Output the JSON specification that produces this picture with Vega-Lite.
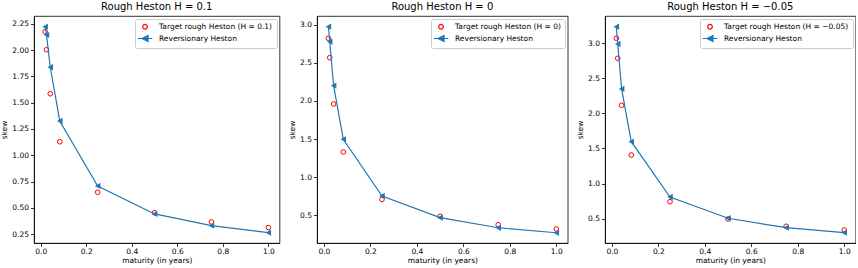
{
  "$schema": "https://vega.github.io/schema/vega-lite/v6.json",
  "padding": {"left": 0, "top": 1, "right": 0, "bottom": 0},
  "background": "white",
  "config": {
    "font": "DejaVu Sans",
    "view": {"stroke": "#000000", "strokeWidth": 0.8},
    "axis": {
      "grid": false,
      "labelFont": "DejaVu Sans", "labelFontSize": 7.5, "labelColor": "#000000",
      "titleFont": "DejaVu Sans", "titleFontSize": 7.5, "titleFontWeight": "normal", "titleColor": "#000000",
      "tickColor": "#000000", "tickSize": 3.5, "tickWidth": 0.8,
      "domainColor": "#000000", "domainWidth": 0.8, "labelPadding": 2, "titlePadding": 3
    },
    "axisX": {"labelPadding": 1, "titlePadding": 1.5},
    "title": {"font": "DejaVu Sans", "fontSize": 10, "fontWeight": "normal", "color": "#000000", "offset": 4},
    "legend": {
      "orient": "top-right", "offset": 3, "padding": 4,
      "fillColor": "rgba(255,255,255,0.8)", "strokeColor": "#cccccc", "cornerRadius": 2,
      "labelFont": "DejaVu Sans", "labelFontSize": 7.5, "labelColor": "#000000",
      "labelOffset": 8, "rowPadding": 0.5, "symbolStrokeWidth": 1.2, "symbolOpacity": 1
    }
  },
  "data": {"values": [
    {"p": 1, "s": "rev", "t": 0.0192, "v": 2.222},
    {"p": 1, "s": "rev", "t": 0.025, "v": 2.143},
    {"p": 1, "s": "rev", "t": 0.0417, "v": 1.836},
    {"p": 1, "s": "rev", "t": 0.0833, "v": 1.326},
    {"p": 1, "s": "rev", "t": 0.25, "v": 0.709},
    {"p": 1, "s": "rev", "t": 0.5, "v": 0.443},
    {"p": 1, "s": "rev", "t": 0.75, "v": 0.332},
    {"p": 1, "s": "rev", "t": 1.0, "v": 0.265},
    {"p": 1, "s": "target", "t": 0.0192, "v": 2.174},
    {"p": 1, "s": "target", "t": 0.025, "v": 2.003},
    {"p": 1, "s": "target", "t": 0.0417, "v": 1.585},
    {"p": 1, "s": "target", "t": 0.0833, "v": 1.129},
    {"p": 1, "s": "target", "t": 0.25, "v": 0.649},
    {"p": 1, "s": "target", "t": 0.5, "v": 0.455},
    {"p": 1, "s": "target", "t": 0.75, "v": 0.367},
    {"p": 1, "s": "target", "t": 1.0, "v": 0.313},
    {"p": 2, "s": "rev", "t": 0.0192, "v": 2.978},
    {"p": 2, "s": "rev", "t": 0.025, "v": 2.78},
    {"p": 2, "s": "rev", "t": 0.0417, "v": 2.201},
    {"p": 2, "s": "rev", "t": 0.0833, "v": 1.496},
    {"p": 2, "s": "rev", "t": 0.25, "v": 0.75},
    {"p": 2, "s": "rev", "t": 0.5, "v": 0.465},
    {"p": 2, "s": "rev", "t": 0.75, "v": 0.333},
    {"p": 2, "s": "rev", "t": 1.0, "v": 0.267},
    {"p": 2, "s": "target", "t": 0.0192, "v": 2.825},
    {"p": 2, "s": "target", "t": 0.025, "v": 2.57},
    {"p": 2, "s": "target", "t": 0.0417, "v": 1.961},
    {"p": 2, "s": "target", "t": 0.0833, "v": 1.329},
    {"p": 2, "s": "target", "t": 0.25, "v": 0.706},
    {"p": 2, "s": "target", "t": 0.5, "v": 0.483},
    {"p": 2, "s": "target", "t": 0.75, "v": 0.372},
    {"p": 2, "s": "target", "t": 1.0, "v": 0.316},
    {"p": 3, "s": "rev", "t": 0.0192, "v": 3.235},
    {"p": 3, "s": "rev", "t": 0.025, "v": 2.989},
    {"p": 3, "s": "rev", "t": 0.0417, "v": 2.348},
    {"p": 3, "s": "rev", "t": 0.0833, "v": 1.597},
    {"p": 3, "s": "rev", "t": 0.25, "v": 0.809},
    {"p": 3, "s": "rev", "t": 0.5, "v": 0.506},
    {"p": 3, "s": "rev", "t": 0.75, "v": 0.372},
    {"p": 3, "s": "rev", "t": 1.0, "v": 0.301},
    {"p": 3, "s": "target", "t": 0.0192, "v": 3.07},
    {"p": 3, "s": "target", "t": 0.025, "v": 2.785},
    {"p": 3, "s": "target", "t": 0.0417, "v": 2.115},
    {"p": 3, "s": "target", "t": 0.0833, "v": 1.407},
    {"p": 3, "s": "target", "t": 0.25, "v": 0.742},
    {"p": 3, "s": "target", "t": 0.5, "v": 0.496},
    {"p": 3, "s": "target", "t": 0.75, "v": 0.392},
    {"p": 3, "s": "target", "t": 1.0, "v": 0.339}
  ]},
  "bounds": "flush",
  "spacing": 37,
  "resolve": {
    "scale": {"x": "independent", "y": "independent", "shape": "independent", "stroke": "independent", "fill": "independent", "size": "independent"},
    "legend": {"shape": "independent", "stroke": "independent", "fill": "independent", "size": "independent"}
  },
  "hconcat": [
    {
      "width": 245.5, "height": 227,
      "title": "Rough Heston H = 0.1",
      "transform": [{"filter": "datum.p == 1"}],
      "encoding": {
        "x": {"field": "t", "type": "quantitative", "title": "maturity (in years)", "scale": {"domain": [-0.0298, 1.049], "nice": false, "zero": false}, "axis": {"values": [0, 0.2, 0.4, 0.6, 0.8, 1.0], "format": ".1f"}},
        "y": {"field": "v", "type": "quantitative", "title": "skew", "scale": {"domain": [0.167, 2.323], "nice": false, "zero": false}, "axis": {"values": [0.25, 0.5, 0.75, 1.0, 1.25, 1.5, 1.75, 2.0, 2.25], "format": ".2f"}}
      },
      "layer": [
        {
          "transform": [{"filter": "datum.s == 'target'"}],
          "mark": {"type": "point", "filled": false, "strokeWidth": 1, "opacity": 1},
          "encoding": {
            "shape": {"field": "s", "type": "nominal", "scale": {"domain": ["target", "rev"], "range": ["circle", "M-1.45,0L1.45,0M0.6,-0.6L-0.6,0L0.6,0.6Z"]}, "legend": {"title": null, "labelExpr": "datum.value == 'target' ? 'Target rough Heston (H = 0.1)' : 'Reversionary Heston'"}},
            "stroke": {"field": "s", "type": "nominal", "scale": {"domain": ["target", "rev"], "range": ["#ff0000", "#1f77b4"]}, "legend": {"title": null, "labelExpr": "datum.value == 'target' ? 'Target rough Heston (H = 0.1)' : 'Reversionary Heston'"}},
            "fill": {"field": "s", "type": "nominal", "scale": {"domain": ["target", "rev"], "range": ["transparent", "#1f77b4"]}, "legend": {"title": null, "labelExpr": "datum.value == 'target' ? 'Target rough Heston (H = 0.1)' : 'Reversionary Heston'"}},
            "size": {"field": "s", "type": "nominal", "scale": {"domain": ["target", "rev"], "range": [22, 100]}, "legend": {"title": null, "labelExpr": "datum.value == 'target' ? 'Target rough Heston (H = 0.1)' : 'Reversionary Heston'"}}
          }
        },
        {
          "transform": [{"filter": "datum.s == 'rev'"}],
          "mark": {"type": "line", "color": "#1f77b4", "strokeWidth": 1.2},
          "encoding": {}
        },
        {
          "transform": [{"filter": "datum.s == 'rev'"}],
          "mark": {"type": "point", "shape": "triangle-left", "filled": true, "fill": "#1f77b4", "opacity": 1, "size": 40},
          "encoding": {}
        }
      ]
    },
    {
      "width": 250.7, "height": 227,
      "title": "Rough Heston H = 0",
      "transform": [{"filter": "datum.p == 2"}],
      "encoding": {
        "x": {"field": "t", "type": "quantitative", "title": "maturity (in years)", "scale": {"domain": [-0.0298, 1.049], "nice": false, "zero": false}, "axis": {"values": [0, 0.2, 0.4, 0.6, 0.8, 1.0], "format": ".1f"}},
        "y": {"field": "v", "type": "quantitative", "title": "skew", "scale": {"domain": [0.132, 3.118], "nice": false, "zero": false}, "axis": {"values": [0.5, 1.0, 1.5, 2.0, 2.5, 3.0], "format": ".1f"}}
      },
      "layer": [
        {
          "transform": [{"filter": "datum.s == 'target'"}],
          "mark": {"type": "point", "filled": false, "strokeWidth": 1, "opacity": 1},
          "encoding": {
            "shape": {"field": "s", "type": "nominal", "scale": {"domain": ["target", "rev"], "range": ["circle", "M-1.45,0L1.45,0M0.6,-0.6L-0.6,0L0.6,0.6Z"]}, "legend": {"title": null, "labelExpr": "datum.value == 'target' ? 'Target rough Heston (H = 0)' : 'Reversionary Heston'"}},
            "stroke": {"field": "s", "type": "nominal", "scale": {"domain": ["target", "rev"], "range": ["#ff0000", "#1f77b4"]}, "legend": {"title": null, "labelExpr": "datum.value == 'target' ? 'Target rough Heston (H = 0)' : 'Reversionary Heston'"}},
            "fill": {"field": "s", "type": "nominal", "scale": {"domain": ["target", "rev"], "range": ["transparent", "#1f77b4"]}, "legend": {"title": null, "labelExpr": "datum.value == 'target' ? 'Target rough Heston (H = 0)' : 'Reversionary Heston'"}},
            "size": {"field": "s", "type": "nominal", "scale": {"domain": ["target", "rev"], "range": [22, 100]}, "legend": {"title": null, "labelExpr": "datum.value == 'target' ? 'Target rough Heston (H = 0)' : 'Reversionary Heston'"}}
          }
        },
        {
          "transform": [{"filter": "datum.s == 'rev'"}],
          "mark": {"type": "line", "color": "#1f77b4", "strokeWidth": 1.2},
          "encoding": {}
        },
        {
          "transform": [{"filter": "datum.s == 'rev'"}],
          "mark": {"type": "point", "shape": "triangle-left", "filled": true, "fill": "#1f77b4", "opacity": 1, "size": 40},
          "encoding": {}
        }
      ]
    },
    {
      "width": 250.6, "height": 227,
      "title": "Rough Heston H = −0.05",
      "transform": [{"filter": "datum.p == 3"}],
      "encoding": {
        "x": {"field": "t", "type": "quantitative", "title": "maturity (in years)", "scale": {"domain": [-0.0298, 1.049], "nice": false, "zero": false}, "axis": {"values": [0, 0.2, 0.4, 0.6, 0.8, 1.0], "format": ".1f"}},
        "y": {"field": "v", "type": "quantitative", "title": "skew", "scale": {"domain": [0.154, 3.387], "nice": false, "zero": false}, "axis": {"values": [0.5, 1.0, 1.5, 2.0, 2.5, 3.0], "format": ".1f"}}
      },
      "layer": [
        {
          "transform": [{"filter": "datum.s == 'target'"}],
          "mark": {"type": "point", "filled": false, "strokeWidth": 1, "opacity": 1},
          "encoding": {
            "shape": {"field": "s", "type": "nominal", "scale": {"domain": ["target", "rev"], "range": ["circle", "M-1.45,0L1.45,0M0.6,-0.6L-0.6,0L0.6,0.6Z"]}, "legend": {"title": null, "labelExpr": "datum.value == 'target' ? 'Target rough Heston (H = −0.05)' : 'Reversionary Heston'"}},
            "stroke": {"field": "s", "type": "nominal", "scale": {"domain": ["target", "rev"], "range": ["#ff0000", "#1f77b4"]}, "legend": {"title": null, "labelExpr": "datum.value == 'target' ? 'Target rough Heston (H = −0.05)' : 'Reversionary Heston'"}},
            "fill": {"field": "s", "type": "nominal", "scale": {"domain": ["target", "rev"], "range": ["transparent", "#1f77b4"]}, "legend": {"title": null, "labelExpr": "datum.value == 'target' ? 'Target rough Heston (H = −0.05)' : 'Reversionary Heston'"}},
            "size": {"field": "s", "type": "nominal", "scale": {"domain": ["target", "rev"], "range": [22, 100]}, "legend": {"title": null, "labelExpr": "datum.value == 'target' ? 'Target rough Heston (H = −0.05)' : 'Reversionary Heston'"}}
          }
        },
        {
          "transform": [{"filter": "datum.s == 'rev'"}],
          "mark": {"type": "line", "color": "#1f77b4", "strokeWidth": 1.2},
          "encoding": {}
        },
        {
          "transform": [{"filter": "datum.s == 'rev'"}],
          "mark": {"type": "point", "shape": "triangle-left", "filled": true, "fill": "#1f77b4", "opacity": 1, "size": 40},
          "encoding": {}
        }
      ]
    }
  ]
}
